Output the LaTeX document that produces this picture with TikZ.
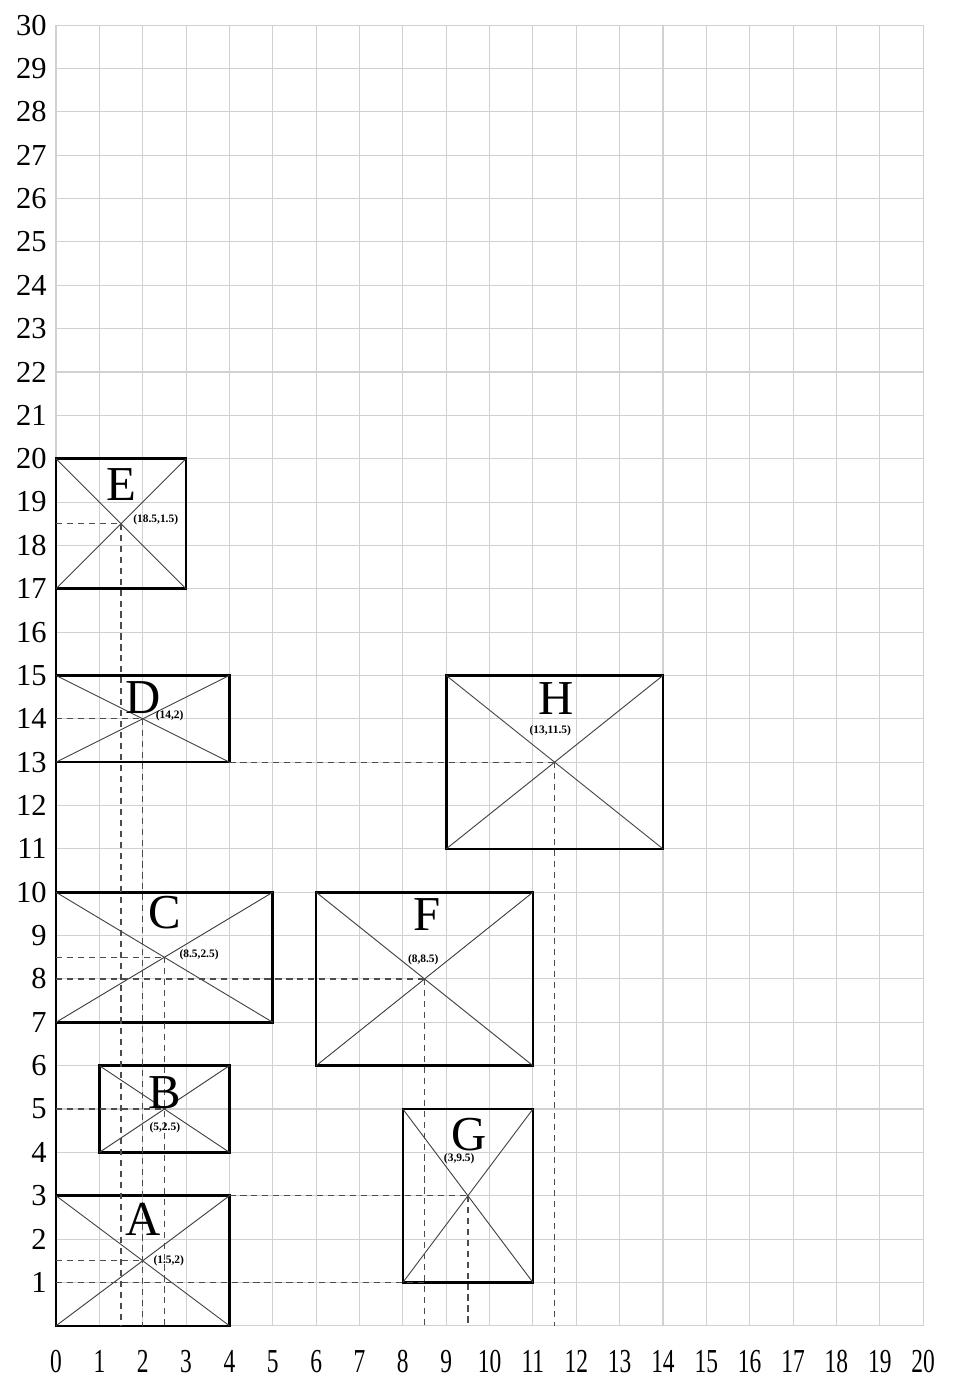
\documentclass[tikz,border=0pt]{standalone}
\usepackage{fontspec}
\setmainfont{Liberation Serif}
\usetikzlibrary{calc}
\tikzset{
  gridline/.style={draw=black!18, line width=0.7pt},
  boxrect/.style={draw=black, line width=1.7pt, inner sep=0pt, outer sep=0pt},
  diag/.style={draw=black!75, line width=0.6pt},
  guide/.style={draw=black!70, line width=0.8pt, dash pattern=on 4pt off 3.2pt},
  letter/.style={font=\fontsize{32}{32}\selectfont, inner sep=0pt},
  coordlabel/.style={font=\fontsize{7.5}{8}\selectfont\bfseries, inner sep=0pt},
  ylab/.style={font=\fontsize{20}{20}\selectfont, anchor=east, inner sep=0pt},
  xlab/.style={font=\fontsize{22}{22}\selectfont, inner sep=0pt}
}
\begin{document}
\begin{tikzpicture}
\useasboundingbox (-1.292,-1.25) rectangle (20.83,30.58);
% grid
\foreach \i in {0,...,20} \draw[gridline] (\i,0) -- (\i,30);
\foreach \j in {0,...,30} \draw[gridline] (0,\j) -- (20,\j);
% thick left axis segment
\coordinate (axb) at (0,0);
\coordinate (axt) at (0,20);
\draw[line width=1.7pt] (axb) -- (axt);
% rectangles
\node[boxrect, minimum width=4cm, minimum height=3cm] (A) at (2,1.5) {};
\node[boxrect, minimum width=3cm, minimum height=2cm] (B) at (2.5,5) {};
\node[boxrect, minimum width=5cm, minimum height=3cm] (C) at (2.5,8.5) {};
\node[boxrect, minimum width=4cm, minimum height=2cm] (D) at (2,14) {};
\node[boxrect, minimum width=3cm, minimum height=3cm] (E) at (1.5,18.5) {};
\node[boxrect, minimum width=5cm, minimum height=4cm] (F) at (8.5,8) {};
\node[boxrect, minimum width=3cm, minimum height=4cm] (G) at (9.5,3) {};
\node[boxrect, minimum width=5cm, minimum height=4cm] (H) at (11.5,13) {};
% diagonals
\foreach \r in {A,B,C,D,E,F,G,H} {
  \draw[diag] (\r.south west) -- (\r.north east);
  \draw[diag] (\r.north west) -- (\r.south east);
}
% guide coordinates
\coordinate (hE) at (0,18.5);
\coordinate (hD) at (0,14);
\coordinate (hC) at (0,8.5);
\coordinate (hF) at (0,8);
\coordinate (hB) at (0,5);
\coordinate (hA) at (0,1.5);
\coordinate (h1a) at (0,1);
\coordinate (h1b) at (8.5,1);
\coordinate (vE) at (1.5,0);
\coordinate (vD) at (2,0);
\coordinate (vC) at (2.5,0);
\coordinate (vF) at (8.5,0);
\coordinate (vG) at (9.5,0);
\coordinate (vH) at (11.5,0);
% dashed guides
\draw[guide] (hE) -- (E.center);
\draw[guide] (hD) -- (D.center);
\draw[guide] (D.south east) -- (H.center);
\draw[guide] (hC) -- (C.center);
\draw[guide] (hF) -- (F.center);
\draw[guide] (hB) -- (B.center);
\draw[guide] (A.north east) -- (G.center);
\draw[guide] (hA) -- (A.center);
\draw[guide] (h1a) -- (h1b);
\draw[guide] (E.center) -- (vE);
\draw[guide] (D.center) -- (vD);
\draw[guide] (C.center) -- (vC);
\draw[guide] (F.center) -- (vF);
\draw[guide] (G.center) -- (vG);
\draw[guide] (H.center) -- (vH);
% letters
\node[letter] (lA) at (2,2.45) {A};
\node[letter] (lB) at (2.5,5.37) {B};
\node[letter] (lC) at (2.5,9.53) {C};
\node[letter] (lD) at (2,14.5) {D};
\node[letter] (lE) at (1.5,19.4) {E};
\node[letter] (lF) at (8.55,9.48) {F};
\node[letter] (lG) at (9.53,4.42) {G};
\node[letter] (lH) at (11.53,14.47) {H};
% coordinate labels
\node[coordlabel] (cA) at (2.6,1.5) {(1.5,2)};
\node[coordlabel] (cB) at (2.51,4.57) {(5,2.5)};
\node[coordlabel] (cC) at (3.3,8.56) {(8.5,2.5)};
\node[coordlabel] (cD) at (2.62,14.07) {(14,2)};
\node[coordlabel] (cE) at (2.3,18.59) {(18.5,1.5)};
\node[coordlabel] (cF) at (8.47,8.44) {(8,8.5)};
\node[coordlabel] (cG) at (9.3,3.85) {(3,9.5)};
\node[coordlabel] (cH) at (11.4,13.72) {(13,11.5)};
% axis labels
\foreach \j in {1,...,30} \node[ylab] (y\j) at (-0.21,\j) {\j};
\foreach \i in {0,...,20} \node[xlab] (x\i) at (\i,-0.83) {\scalebox{0.7}[1]{\i}};
\end{tikzpicture}
\end{document}
